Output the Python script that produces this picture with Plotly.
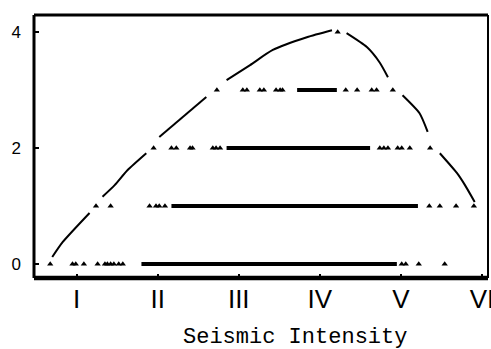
import plotly.graph_objects as go

# ---- data ----
intensity_ticks = [1, 2, 3, 4, 5, 6]
intensity_labels = ["I", "II", "III", "IV", "V", "VI"]
y_ticks = [0, 2, 4]

level0_x = [0.675, 0.95, 0.99, 1.09, 1.26, 1.35, 1.38, 1.42, 1.46, 1.52, 1.57, 5.01, 5.06, 5.22, 5.54]
level1_x = [1.24, 1.42, 1.90, 1.98, 2.02, 2.09, 5.35, 5.48, 5.68, 5.90]
level2_x = [1.95, 2.17, 2.23, 2.40, 2.43, 2.68, 2.72, 2.77, 4.74, 4.79, 4.84, 4.96, 5.01, 5.11, 5.36]
level3_x = [2.73, 3.05, 3.10, 3.26, 3.31, 3.46, 3.51, 3.54, 4.32, 4.46, 4.64, 4.70, 4.90]
level4_x = [4.22]

# dense clusters of observations per level: (start, end)
dense_level = [0, 1, 2, 3]
dense_start = [1.80, 2.17, 2.85, 3.72]
dense_end = [4.95, 5.21, 4.62, 4.21]

# envelope curve (gaps where it passes the marked points)
curve_x = [0.70, 0.83, 1.16, None, 1.32, 1.47, 1.63, 1.86, None, 2.02, 2.60, None,
           2.85, 3.14, 3.42, 3.84, 4.15, None, 4.33, 4.58, 4.74, 4.84, None,
           5.02, 5.23, 5.33, None, 5.48, 5.69, 5.79, 5.91]
curve_y = [0.12, 0.38, 0.88, None, 1.16, 1.36, 1.62, 1.91, None, 2.19, 2.88, None,
           3.17, 3.43, 3.69, 3.91, 4.03, None, 3.98, 3.74, 3.47, 3.22, None,
           2.91, 2.60, 2.28, None, 1.91, 1.57, 1.36, 1.07]

fig = go.Figure()

# dense bands
for lv, s, e in zip(dense_level, dense_start, dense_end):
    fig.add_trace(go.Scatter(x=[s, e], y=[lv, lv], mode="lines",
                             line=dict(color="black", width=4), hoverinfo="skip"))

# individual points
for lv, xs in zip([0, 1, 2, 3, 4], [level0_x, level1_x, level2_x, level3_x, level4_x]):
    fig.add_trace(go.Scatter(x=xs, y=[lv] * len(xs), mode="markers",
                             marker=dict(symbol="triangle-up", size=5.5, color="black")))

# envelope
fig.add_trace(go.Scatter(x=curve_x, y=curve_y, mode="lines", connectgaps=False,
                         line=dict(color="black", width=2, shape="spline", smoothing=0.6)))

# frame
for x0, y0, x1, y1, w in [(0, 0, 0, 1, 3), (0, 0, 1, 0, 4.5), (0, 1, 1, 1, 3), (1, 0, 1, 1, 2)]:
    fig.add_shape(type="line", xref="paper", yref="paper", x0=x0, y0=y0, x1=x1, y1=y1,
                  line=dict(color="black", width=w), layer="above")

fig.add_annotation(text="Seismic Intensity", xref="paper", yref="paper",
                   x=0.5755, y=-0.225, yanchor="middle", showarrow=False,
                   font=dict(family="Liberation Mono", size=22, color="black"))

fig.update_layout(
    width=491, height=349,
    margin=dict(l=34, r=3, t=15, b=71),
    paper_bgcolor="white", plot_bgcolor="white",
    showlegend=False,
)
fig.update_xaxes(range=[0.475, 6.074], tickvals=intensity_ticks, ticktext=intensity_labels,
                 ticks="inside", ticklen=4, tickwidth=2, tickcolor="black",
                 showgrid=False, zeroline=False, showline=False, automargin=False,
                 ticklabelstandoff=3, ticklabeloverflow="allow",
                 tickfont=dict(family="Liberation Sans", size=26, color="black"))
fig.update_yaxes(range=[-0.241, 4.293], tickvals=y_ticks,
                 ticks="inside", ticklen=5, tickwidth=2, tickcolor="black",
                 showgrid=False, zeroline=False, showline=False, automargin=False,
                 ticklabelstandoff=12,
                 tickfont=dict(family="Liberation Sans", size=17, color="black"))

fig.write_html("out.html", config={"displayModeBar": False},
               post_script="document.body.style.margin='0';document.body.style.overflow='hidden';")
